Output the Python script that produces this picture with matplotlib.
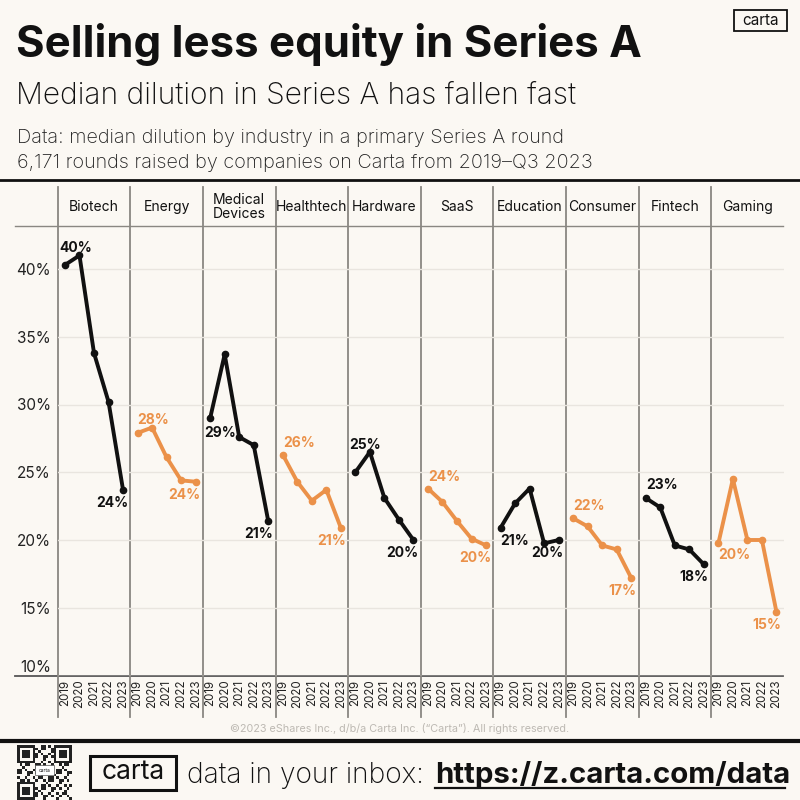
import matplotlib.pyplot as plt
from matplotlib.patches import Rectangle

# data: median dilution (%) in Series A, 2019-2023
industries = ['Biotech', 'Energy', 'Medical\nDevices', 'Healthtech', 'Hardware',
              'SaaS', 'Education', 'Consumer', 'Fintech', 'Gaming']
years = ['2019', '2020', '2021', '2022', '2023']
dilution = [
    [40.3, 41.0, 33.8, 30.2, 23.7],
    [27.9, 28.3, 26.1, 24.4, 24.3],
    [29.0, 33.7, 27.6, 27.0, 21.4],
    [26.3, 24.3, 22.9, 23.7, 20.9],
    [25.0, 26.5, 23.1, 21.5, 20.0],
    [23.8, 22.8, 21.4, 20.1, 19.6],
    [20.9, 22.7, 23.8, 19.75, 20.0],
    [21.6, 21.0, 19.6, 19.3, 17.2],
    [23.1, 22.4, 19.6, 19.3, 18.2],
    [19.75, 24.5, 20.0, 20.0, 14.7],
]
yticks = [10, 15, 20, 25, 30, 35, 40]

# label placement of the first value (pixels, + is up)
first_dx = [-6, 0, -6, 0, -6, 0, 0, 0, 0, 0]
first_dy = [17, 13, -15, 12, 27, 12, -13, 12, 13, -12]

BG = '#FBF8F3'
BLACK = '#111111'
ORANGE = '#EB9149'
GRAY = '#8A8782'
FONT = 'Inter'

plt.rcParams['font.family'] = [FONT, 'DejaVu Sans']

fig = plt.figure(figsize=(8, 8), dpi=100, facecolor=BG)

# overlay in pixel coordinates for the text and rules
deco = fig.add_axes([0, 0, 1, 1], zorder=-1)
deco.set_xlim(0, 800)
deco.set_ylim(800, 0)
deco.axis('off')
deco.patch.set_alpha(0)

deco.text(16, 57, 'Selling less equity in Series A', fontsize=31.5, fontweight='bold',
          color=BLACK, va='baseline')
deco.text(16, 104, 'Median dilution in Series A has fallen fast', fontsize=21.6,
          fontweight='light', color=BLACK, va='baseline')
deco.text(17, 143, 'Data: median dilution by industry in a primary Series A round',
          fontsize=14.3, fontweight='light', color='#222222', va='baseline')
deco.text(17, 168, '6,171 rounds raised by companies on Carta from 2019\u2013Q3 2023',
          fontsize=14.3, fontweight='light', color='#222222', va='baseline')
deco.add_patch(Rectangle((734, 10), 53, 21, fill=False, ec=BLACK, lw=1.3))
deco.text(760.5, 20.5, 'carta', fontsize=11, color=BLACK, ha='center', va='center')
deco.plot([0, 800], [180, 180], color=BLACK, lw=2)

# panel geometry
x0, pw = 57.7, 72.6
top, bottom = 226, 675.5
ppu = 13.55  # pixels per percentage point
ymax = 10 + (bottom - top) / ppu

deco.plot([15, 783], [top, top], color=GRAY, lw=1)
deco.plot([15, 783], [bottom, bottom], color='#555555', lw=1.3)

for i, name in enumerate(industries):
    left = x0 + i * pw
    deco.plot([left, left], [187, 717], color=GRAY, lw=1.3)
    deco.text(left + pw / 2, 207, name, fontsize=10, color=BLACK, ha='center',
              va='center', linespacing=1.05)

    ax = fig.add_axes([left / 800, 1 - bottom / 800, pw / 800, (bottom - top) / 800])
    ax.patch.set_alpha(0)
    for s in ax.spines.values():
        s.set_visible(False)
    ax.set_xlim(-0.5, 4.5)
    ax.set_ylim(10, ymax)
    ax.set_yticks(yticks)
    ax.grid(axis='y', color='#E9E5DF', lw=1)
    ax.set_axisbelow(True)
    ax.tick_params(length=0)
    if i == 0:
        labels = ax.set_yticklabels([f'{v}%' for v in yticks], fontsize=11, color='#222222')
        labels[0].set_va('bottom')
        ax.tick_params(axis='y', pad=5)
    else:
        ax.set_yticklabels([])
    ax.set_xticks(range(len(years)))
    ax.set_xticklabels(years, rotation=90, fontsize=8.3, color='#222222')
    ax.tick_params(axis='x', pad=3)

    c = BLACK if i % 2 == 0 else ORANGE
    vals = dilution[i]
    ax.plot(range(len(vals)), vals, color=c, lw=2.8, marker='o', ms=4.5,
            solid_joinstyle='round', clip_on=False)
    ax.annotate(f'{round(vals[0])}%', (0, vals[0]), xytext=(first_dx[i], first_dy[i]),
                textcoords='offset pixels', ha='left', va='center', fontsize=10,
                fontweight='bold', color=c, annotation_clip=False)
    ax.annotate(f'{round(vals[-1])}%', (4, vals[-1]), xytext=(5, -13),
                textcoords='offset pixels', ha='right', va='center', fontsize=10,
                fontweight='bold', color=c, annotation_clip=False)

# footer
deco.text(400, 729, '\u00a92023 eShares Inc., d/b/a Carta Inc. (\u201cCarta\u201d). All rights reserved.',
          fontsize=7.8, color='#BDB9B3', ha='center', va='center')
deco.plot([0, 800], [740.5, 740.5], color=BLACK, lw=3)

# qr-like badge
qr_n = 21
cell = 55 / qr_n
for r in range(qr_n):
    for q in range(qr_n):
        finder = (r < 7 and q < 7) or (r < 7 and q >= qr_n - 7) or (r >= qr_n - 7 and q < 7)
        if finder:
            rr, qq = r % (qr_n - 7) if r >= 7 else r, q % (qr_n - 7) if q >= 7 else q
            on = rr in (0, 6) or qq in (0, 6) or (2 <= rr <= 4 and 2 <= qq <= 4)
        else:
            on = (r * 7 + q * 13 + r * q) % 3 == 0 or (r + q) % 5 == 0
        if on:
            deco.add_patch(Rectangle((17 + q * cell, 745 + r * cell), cell, cell,
                                     color='#222222', lw=0))
deco.add_patch(Rectangle((35, 765), 19, 10, fc='white', ec='#555555', lw=0.5))
deco.text(44.5, 770, 'carta', fontsize=3.5, ha='center', va='center', color=BLACK)

deco.add_patch(Rectangle((90, 756), 86, 34, fill=False, ec=BLACK, lw=2.2))
deco.text(133, 772, 'carta', fontsize=19, color=BLACK, ha='center', va='center')
deco.text(187, 783, 'data in your inbox:', fontsize=20.3, fontweight='light',
          color=BLACK, va='baseline')
deco.text(435, 783, 'https://z.carta.com/data', fontsize=21.2, fontweight='bold',
          color=BLACK, va='baseline')
deco.plot([435, 785], [788, 788], color=BLACK, lw=1.6)

fig.savefig('out.png', dpi=100, facecolor=BG)
